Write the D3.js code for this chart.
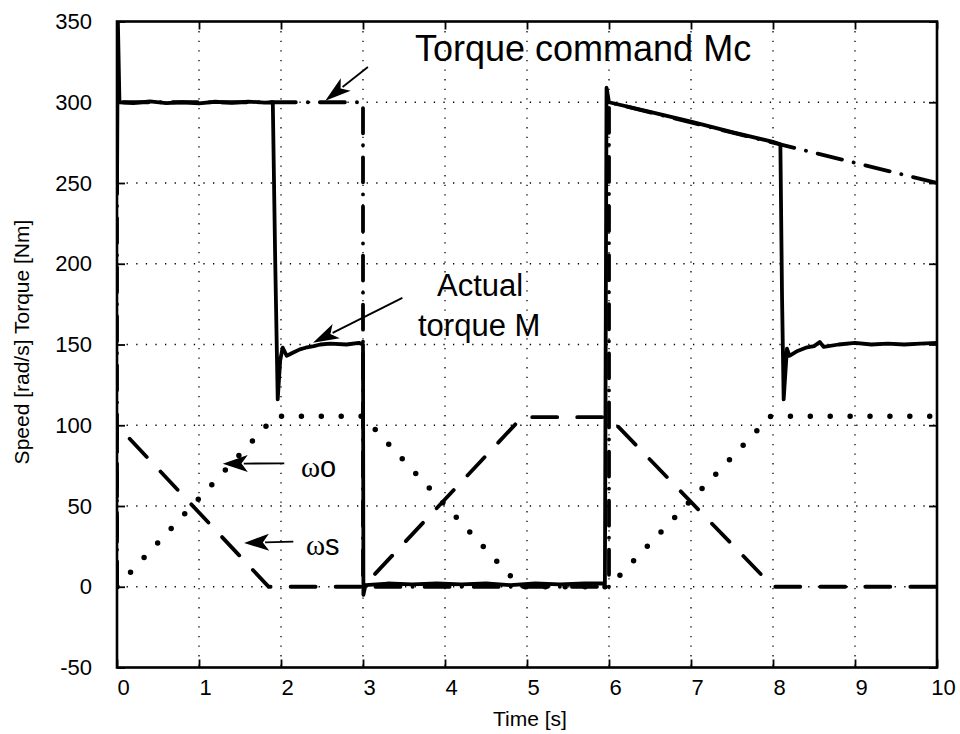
<!DOCTYPE html>
<html>
<head>
<meta charset="utf-8">
<script src="https://cdn.jsdelivr.net/npm/d3@7"></script>
<style>
  html, body { margin: 0; padding: 0; background: #fff; }
  svg { display: block; }
  text { font-family: "Liberation Sans", Arial, sans-serif; fill: #000; }
</style>
</head>
<body>
<svg id="chart" width="960" height="734"></svg>
<script>
// ---------------- data ----------------
const xTicks = [0, 1, 2, 3, 4, 5, 6, 7, 8, 9, 10];
const yTicks = [-50, 0, 50, 100, 150, 200, 250, 300, 350];

// Torque command Mc [Nm]
const mcTime  = [0, 0, 3.0, 3.0, 6.0, 6.0, 10];
const mcValue = [0, 300, 300, 0, 0, 300, 250];

// Actual torque M [Nm]
const mTime  = [0, 0.01, 0.03, 0.2, 0.4, 0.6, 0.8, 1.0, 1.2, 1.4, 1.6, 1.8, 1.9,
                1.93, 1.96, 1.99, 2.02, 2.07, 2.15, 2.23, 2.3, 2.4, 2.48, 2.6, 2.8, 2.95, 3.0,
                3.005, 3.03, 3.3, 3.6, 3.9, 4.2, 4.5, 4.8, 5.1, 5.4, 5.7, 5.95,
                5.97, 6.0, 6.5, 7.0, 7.5, 8.0, 8.09,
                8.11, 8.13, 8.17, 8.2, 8.3, 8.4, 8.5, 8.57, 8.62, 8.8, 9.0, 9.2, 9.4, 9.6, 9.8, 10];
const mValue = [243, 352, 300, 299.5, 300.5, 299.5, 300, 299.3, 300.3, 299.6, 300.4, 299.8, 300,
                200, 116, 140, 148, 143, 145, 147, 148, 149, 150, 150.5, 150, 151, 150,
                -5, 1, 2, 1.5, 2, 1.5, 2, 1, 2, 1.5, 2, 2,
                309, 300, 294, 288, 281.5, 275.5, 274,
                180, 116, 147.5, 143, 146, 148, 149, 151.5, 148.5, 150, 151, 150, 150.5, 150, 150.5, 151];

// Rotor speed wo [rad/s]
const woTime  = [0, 1.93, 3.0, 4.92, 6.0, 7.97, 10];
const woValue = [0, 105.5, 105.5, 0, 0, 105.5, 105.5];

// Slip / stator speed ws [rad/s]
const wsTime  = [0, 0, 1.85, 3.0, 4.94, 6.0, 8.0, 10];
const wsValue = [0, 100, 0, 0, 105, 105, 0, 0];

// ---------------- layout ----------------
const svg = d3.select("#chart");
const L = 117, R = 937, T = 21.5, B = 667.5;
const x = d3.scaleLinear().domain([0, 10]).range([L, R]);
const y = d3.scaleLinear().domain([-50, 350]).range([B, T]);

// grid
const grid = svg.append("g").attr("stroke", "#000").attr("stroke-width", 1.3)
  .attr("stroke-dasharray", "1.3,8.3");
grid.selectAll("line.v").data(xTicks.slice(1, -1)).join("line")
  .attr("x1", d => x(d)).attr("x2", d => x(d)).attr("y1", T).attr("y2", B);
grid.selectAll("line.h").data(yTicks.slice(1, -1)).join("line")
  .attr("x1", L).attr("x2", R).attr("y1", d => y(d)).attr("y2", d => y(d));

// axes (inward ticks)
const fontSize = 22;
const fmt = d => String(d);
const xAxis = svg.append("g").attr("transform", `translate(0,${B})`)
  .call(d3.axisBottom(x).tickValues(xTicks).tickSize(-8).tickPadding(12).tickFormat(fmt));
xAxis.selectAll("text").attr("dx", 6).style("font-size", fontSize + "px")
  .style("font-family", '"Liberation Sans", Arial, sans-serif');
svg.append("g").attr("transform", `translate(0,${T})`)
  .call(d3.axisTop(x).tickValues(xTicks).tickSize(-8).tickFormat(""));
const yAxis = svg.append("g").attr("transform", `translate(${L},0)`)
  .call(d3.axisLeft(y).tickValues(yTicks).tickSize(-8).tickPadding(25).tickFormat(fmt));
yAxis.selectAll("text").style("font-size", fontSize + "px")
  .style("font-family", '"Liberation Sans", Arial, sans-serif');
svg.append("g").attr("transform", `translate(${R},0)`)
  .call(d3.axisRight(y).tickValues(yTicks).tickSize(-8).tickFormat(""));
svg.selectAll(".domain").remove();
svg.selectAll(".tick line").attr("stroke", "#000").attr("stroke-width", 1.8);

// clip
svg.append("clipPath").attr("id", "clip").append("rect")
  .attr("x", L).attr("y", T).attr("width", R - L).attr("height", B - T);
const plot = svg.append("g").attr("clip-path", "url(#clip)");

const line = d3.line().x(d => x(d[0])).y(d => y(d[1]));
const zip = (a, b) => a.map((v, i) => [v, b[i]]);

// wo dotted (large round dots)
plot.append("path").datum(zip(woTime, woValue)).attr("d", line)
  .attr("fill", "none").attr("stroke", "#000").attr("stroke-width", 5.5)
  .attr("stroke-linecap", "round").attr("stroke-dasharray", "0,19.9");

// ws dashed
plot.append("path").datum(zip(wsTime, wsValue)).attr("d", line)
  .attr("fill", "none").attr("stroke", "#000").attr("stroke-width", 3.8)
  .attr("stroke-linecap", "round").attr("stroke-dasharray", "25,20");

// Mc dash-dot
plot.append("path").datum(zip(mcTime, mcValue)).attr("d", line)
  .attr("fill", "none").attr("stroke", "#000").attr("stroke-width", 3.8)
  .attr("stroke-linecap", "round").attr("stroke-dasharray", "25,12,0.1,12");

// M solid
plot.append("path").datum(zip(mTime, mValue)).attr("d", line)
  .attr("fill", "none").attr("stroke", "#000").attr("stroke-width", 3.8)
  .attr("stroke-linejoin", "round");

// border
svg.append("rect").attr("x", L).attr("y", T).attr("width", R - L).attr("height", B - T)
  .attr("fill", "none").attr("stroke", "#000").attr("stroke-width", 2.6);

// ---------------- annotations ----------------
function arrow(t0, v0, t1, v1, headLen, headW) {
  const x0 = x(t0), y0 = y(v0), x1 = x(t1), y1 = y(v1);
  const ang = Math.atan2(y1 - y0, x1 - x0);
  const bx = x1 - headLen * Math.cos(ang), by = y1 - headLen * Math.sin(ang);
  const nx = -Math.sin(ang), ny = Math.cos(ang);
  svg.append("line").attr("x1", x0).attr("y1", y0).attr("x2", bx + 4 * Math.cos(ang)).attr("y2", by + 4 * Math.sin(ang))
    .attr("stroke", "#000").attr("stroke-width", 1.8);
  const ix = x1 - headLen * 0.75 * Math.cos(ang), iy = y1 - headLen * 0.75 * Math.sin(ang);
  svg.append("path")
    .attr("d", `M${x1},${y1} L${bx + nx * headW},${by + ny * headW} L${ix},${iy} L${bx - nx * headW},${by - ny * headW} Z`)
    .attr("fill", "#000");
}
arrow(3.06, 321.8, 2.54, 301, 26, 8);
arrow(3.48, 178.9, 2.39, 151.1, 26, 8);
arrow(2.04, 76.4, 1.29, 76.2, 25, 8.5);
arrow(2.15, 27.9, 1.55, 27.1, 25, 8.5);

const ann = svg.append("g");
ann.append("text").attr("x", 415).attr("y", 61).style("font-size", "36px").text("Torque command Mc");
ann.append("text").attr("x", 437).attr("y", 296).style("font-size", "31px").text("Actual");
ann.append("text").attr("x", 418).attr("y", 336).style("font-size", "31px").text("torque M");

const wo = ann.append("text").attr("x", 301).attr("y", 477).style("font-size", "29px");
wo.append("tspan").style("font-family", '"Liberation Serif", serif').text("ω");
wo.append("tspan").text("o");
const ws = ann.append("text").attr("x", 306).attr("y", 555).style("font-size", "29px");
ws.append("tspan").style("font-family", '"Liberation Serif", serif').text("ω");
ws.append("tspan").text("s");

// axis titles
svg.append("text").attr("x", 530).attr("y", 726).attr("text-anchor", "middle")
  .style("font-size", "21px").text("Time [s]");
svg.append("text").attr("transform", `translate(29,342) rotate(-90)`)
  .attr("text-anchor", "middle").style("font-size", "21px").text("Speed [rad/s] Torque [Nm]");
</script>
</body>
</html>
